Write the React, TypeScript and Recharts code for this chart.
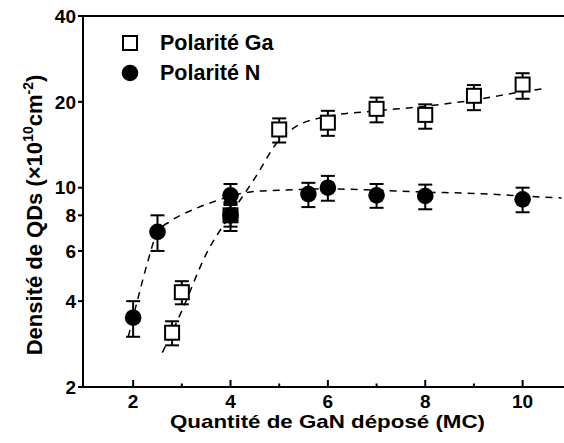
import React from "react";
import {
  ComposedChart,
  Scatter,
  Line,
  XAxis,
  YAxis,
  ErrorBar,
  ReferenceLine,
} from "recharts";

const FONT = "'Liberation Sans', Arial, sans-serif";

// Polarité Ga (open squares)
const gaX = [2.8, 3, 4, 5, 6, 7, 8, 9, 10];
const gaY = [3.1, 4.3, 8.0, 16.0, 16.9, 18.9, 18.0, 21.0, 23.0];
const gaLow = [2.8, 3.9, 7.05, 14.4, 15.2, 16.95, 16.1, 18.7, 20.5];
const gaHigh = [3.4, 4.7, 8.9, 17.5, 18.6, 20.7, 19.6, 22.9, 25.2];

// Polarité N (filled circles)
const nX = [2, 2.5, 4, 4, 5.6, 6, 7, 8, 10];
const nY = [3.5, 7.0, 9.4, 8.0, 9.5, 10.0, 9.4, 9.35, 9.1];
const nLow = [3.0, 6.0, 8.7, 7.3, 8.55, 9.0, 8.5, 8.4, 8.2];
const nHigh = [4.0, 8.0, 10.3, 8.8, 10.4, 11.0, 10.3, 10.25, 10.0];

// dashed fit curves
const gaFitX = [2.6, 3, 3.5, 4, 4.5, 5, 5.3, 6, 7, 8, 9, 10, 10.5];
const gaFitY = [2.64, 3.7, 5.85, 8.05, 10.8, 14.7, 16.2, 17.8, 18.6, 19.3, 20.3, 21.7, 22.3];
const nFitX = [1.9, 2.1, 2.3, 2.5, 2.75, 3.25, 3.75, 4, 4.5, 5, 6, 7, 8, 9, 10, 10.8];
const nFitY = [3.0, 4.1, 5.5, 7.0, 7.6, 8.4, 9.05, 9.35, 9.7, 9.8, 9.9, 9.8, 9.65, 9.55, 9.35, 9.2];

const yTicks = [2, 4, 6, 8, 10, 20, 40];
const xTicks = [2, 3, 4, 5, 6, 7, 8, 9, 10];
const xLabels = [2, 4, 6, 8, 10];

const toPoints = (xs: number[], ys: number[], lo: number[], hi: number[]) =>
  xs.map((x, i) => ({ x, y: ys[i], err: [ys[i] - lo[i], hi[i] - ys[i]] }));

const gaData = toPoints(gaX, gaY, gaLow, gaHigh);
const nData = toPoints(nX, nY, nLow, nHigh);
const gaFit = gaFitX.map((x, i) => ({ x, fit: gaFitY[i] }));
const nFit = nFitX.map((x, i) => ({ x, fit: nFitY[i] }));

const SquareShape = (props: any) => {
  const { cx, cy } = props;
  return (
    <rect x={cx - 7} y={cy - 7} width={14} height={14} fill="#fff" stroke="#000" strokeWidth={2} />
  );
};

const CircleShape = (props: any) => {
  const { cx, cy } = props;
  return <circle cx={cx} cy={cy} r={8.3} fill="#000" />;
};

const XTick = (props: any) => {
  const { x, y, payload } = props;
  const major = xLabels.includes(payload.value);
  return (
    <g>
      <line x1={x} x2={x} y1={y} y2={y - (major ? 7 : 3.5)} stroke="#000" strokeWidth={2} />
      {major && (
        <text x={x} y={y + 21} textAnchor="middle" fontFamily={FONT} fontWeight="bold" fontSize={19} fill="#000">
          {payload.value}
        </text>
      )}
    </g>
  );
};

const XTitle = () => (
  <text
    x={170}
    y={428}
    textLength={315}
    lengthAdjust="spacingAndGlyphs"
    fontFamily={FONT}
    fontWeight="bold"
    fontSize={19}
    fill="#000"
  >
    Quantité de GaN déposé (MC)
  </text>
);

const YTitle = () => (
  <text
    transform="translate(42,215) rotate(-90)"
    textAnchor="middle"
    fontFamily={FONT}
    fontWeight="bold"
    fontSize={22}
    fill="#000"
  >
    Densité de QDs (×10
    <tspan dy={-9} fontSize={14}>10</tspan>
    <tspan dy={9}>cm</tspan>
    <tspan dy={-9} fontSize={14}>-2</tspan>
    <tspan dy={9}>)</tspan>
  </text>
);

export default function App() {
  return (
    <div style={{ position: "absolute", left: 0, top: 0, width: 564, height: 443, background: "#fff" }}>
      <ComposedChart width={564} height={443} margin={{ top: 16, right: 0, left: 0, bottom: 0 }}>
        <XAxis
          type="number"
          dataKey="x"
          domain={[0.97, 10.85]}
          allowDataOverflow
          ticks={xTicks}
          interval={0}
          height={56}
          tickSize={0}
          tickMargin={0}
          tick={<XTick />}
          axisLine={{ stroke: "#000", strokeWidth: 2 }}
          label={{ content: <XTitle /> }}
        />
        <YAxis
          type="number"
          scale="log"
          domain={[2, 40]}
          allowDataOverflow
          ticks={yTicks}
          interval={0}
          width={83}
          tickSize={5}
          tickMargin={2}
          tick={{ fontFamily: FONT, fontWeight: "bold", fontSize: 19, fill: "#000" }}
          tickLine={{ stroke: "#000", strokeWidth: 2 }}
          axisLine={{ stroke: "#000", strokeWidth: 2 }}
          label={{ content: <YTitle /> }}
        />
        <ReferenceLine y={40} stroke="#000" strokeWidth={2} />
        <Line
          data={gaFit}
          dataKey="fit"
          type="monotone"
          stroke="#000"
          strokeWidth={1.5}
          strokeDasharray="7 6"
          dot={false}
          activeDot={false}
          isAnimationActive={false}
        />
        <Line
          data={nFit}
          dataKey="fit"
          type="monotone"
          stroke="#000"
          strokeWidth={1.5}
          strokeDasharray="7 6"
          dot={false}
          activeDot={false}
          isAnimationActive={false}
        />
        <Scatter data={gaData} dataKey="y" shape={<SquareShape />} isAnimationActive={false}>
          <ErrorBar dataKey="err" direction="y" width={7} stroke="#000" strokeWidth={2} />
        </Scatter>
        <Scatter data={nData} dataKey="y" shape={<CircleShape />} isAnimationActive={false}>
          <ErrorBar dataKey="err" direction="y" width={7} stroke="#000" strokeWidth={2} />
        </Scatter>
      </ComposedChart>
      <div style={{ position: "absolute", left: 0, top: 0, width: 564, height: 443, pointerEvents: "none" }}>
        <svg width={564} height={443} style={{ position: "absolute", left: 0, top: 0 }}>
          <rect x={123} y={36} width={14} height={14} fill="#fff" stroke="#000" strokeWidth={2} />
          <circle cx={130} cy={73} r={8.3} fill="#000" />
          <text x={160} y={50} fontFamily={FONT} fontWeight="bold" fontSize={21.5} fill="#000">
            Polarité Ga
          </text>
          <text x={160} y={80} fontFamily={FONT} fontWeight="bold" fontSize={21.5} fill="#000">
            Polarité N
          </text>
        </svg>
      </div>
    </div>
  );
}
